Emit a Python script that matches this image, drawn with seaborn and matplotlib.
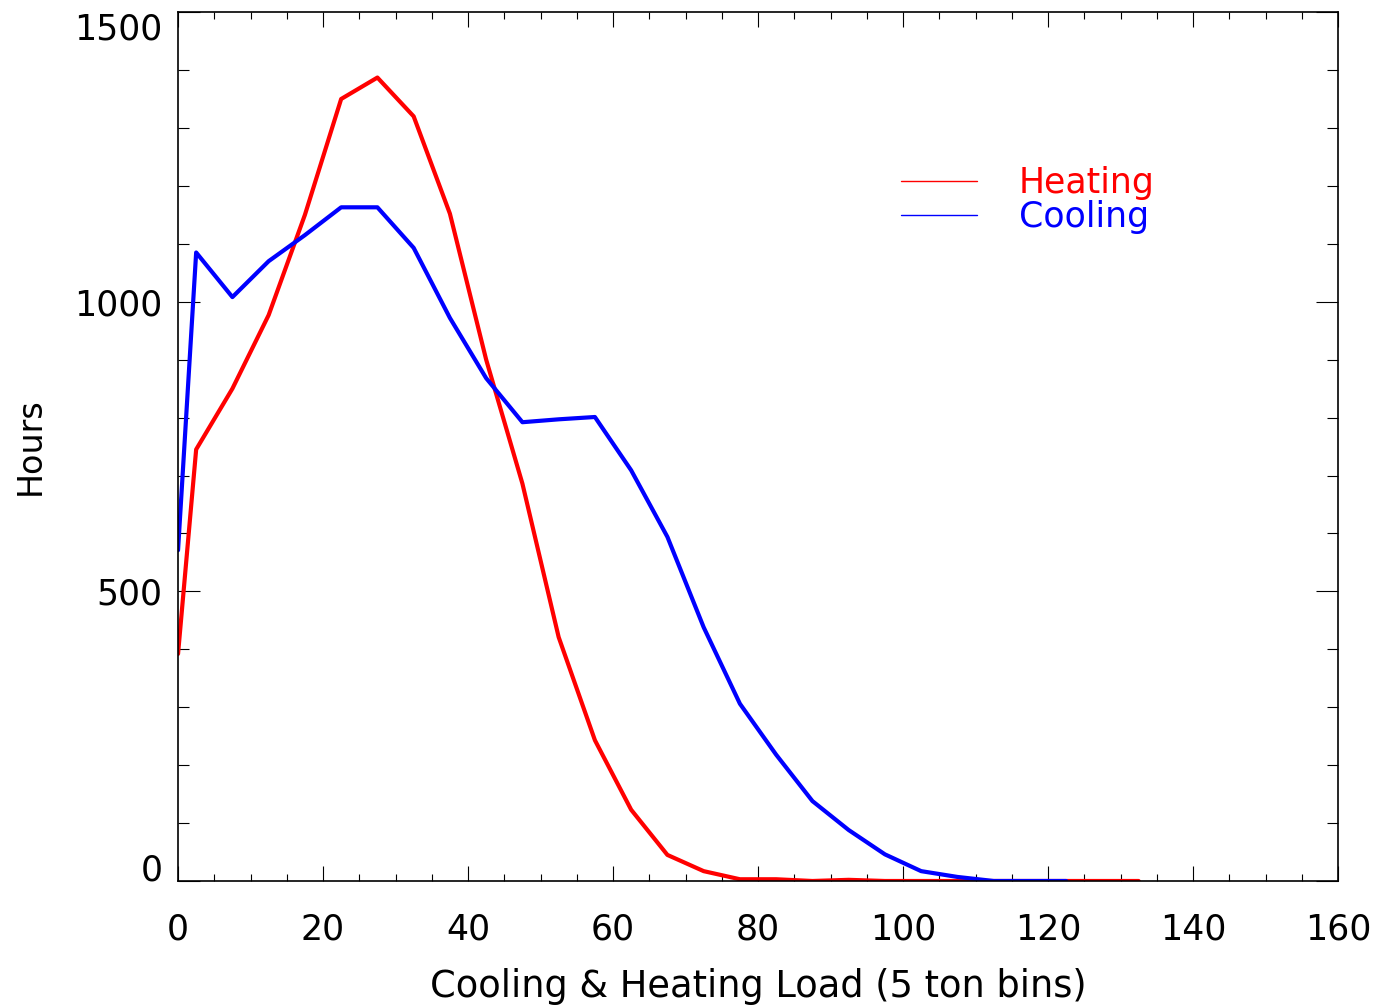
import matplotlib
matplotlib.use("Agg")
import matplotlib.pyplot as plt
import pandas as pd
import seaborn as sns
from matplotlib.ticker import MultipleLocator

# bin centres (5 ton bins) and hours per bin
heating_load = [0, 2.5, 7.5, 12.5, 17.5, 22.5, 27.5, 32.5, 37.5, 42.5, 47.5, 52.5,
                57.5, 62.5, 67.5, 72.5, 77.5, 82.5, 87.5, 92.5, 97.5, 102.5, 107.5,
                112.5, 117.5, 122.5, 127.5, 132.5]
heating_hours = [392, 745, 850, 977, 1150, 1350, 1387, 1320, 1152, 900, 686, 421,
                 243, 123, 45, 17, 3, 3, 0, 2, 0, 0, 0,
                 0, 0, 0, 0, 0]

cooling_load = [0, 2.5, 7.5, 12.5, 17.5, 22.5, 27.5, 32.5, 37.5, 42.5, 47.5, 52.5,
                57.5, 62.5, 67.5, 72.5, 77.5, 82.5, 87.5, 92.5, 97.5, 102.5, 107.5,
                112.5, 117.5, 122.5]
cooling_hours = [571, 1085, 1008, 1070, 1115, 1163, 1163, 1093, 972, 868, 792, 797,
                 801, 709, 594, 438, 306, 218, 138, 88, 46, 17, 7,
                 0, 0, 0]

x_ticks = [0, 20, 40, 60, 80, 100, 120, 140, 160]
y_ticks = [0, 500, 1000, 1500]

heat = pd.DataFrame({"load": heating_load, "hours": heating_hours})
cool = pd.DataFrame({"load": cooling_load, "hours": cooling_hours})

sns.set_style("ticks")
plt.rcParams["font.family"] = ["DejaVu Sans"]
plt.rcParams["text.color"] = "black"
plt.rcParams["axes.labelcolor"] = "black"
plt.rcParams["xtick.color"] = "black"
plt.rcParams["ytick.color"] = "black"

fig = plt.figure(figsize=(13.78, 10.08), dpi=100)
ax = fig.add_axes([0.1292, 0.126, 0.8418, 0.862])

sns.lineplot(data=heat, x="load", y="hours", color="#ff0000", linewidth=3.0,
             label="Heating", ax=ax)
sns.lineplot(data=cool, x="load", y="hours", color="#0000ff", linewidth=3.0,
             label="Cooling", ax=ax)

ax.set_xlim(0, 160)
ax.set_ylim(0, 1500)
ax.set_xticks(x_ticks)
ax.set_yticks(y_ticks)
ax.xaxis.set_minor_locator(MultipleLocator(5))
ax.yaxis.set_minor_locator(MultipleLocator(100))

ax.tick_params(axis="both", which="both", direction="in", top=True, right=True,
               width=0.8, labelsize=25)
ax.tick_params(axis="x", which="major", length=11, pad=23)
ax.tick_params(axis="x", which="minor", length=4.8)
ax.tick_params(axis="y", which="major", length=16, pad=11)
ax.tick_params(axis="y", which="minor", length=8)

for s in ax.spines.values():
    s.set_linewidth(1.2)
    s.set_color("black")

ax.set_xlabel("Cooling & Heating Load (5 ton bins)", fontsize=26.5, labelpad=15)
ax.set_ylabel("Hours", fontsize=24, labelpad=20)

leg = ax.legend(loc="upper left", bbox_to_anchor=(0.623, 0.823), frameon=False,
                fontsize=25, labelcolor="linecolor", handlelength=2.2,
                handletextpad=1.2, labelspacing=0.0, borderpad=0, borderaxespad=0)
for line in leg.get_lines():
    line.set_linewidth(1.0)

ylabels = ax.get_yticklabels()
ylabels[0].set_verticalalignment("baseline")
ylabels[-1].set_verticalalignment("top")

fig.savefig("out.png", dpi=100)
